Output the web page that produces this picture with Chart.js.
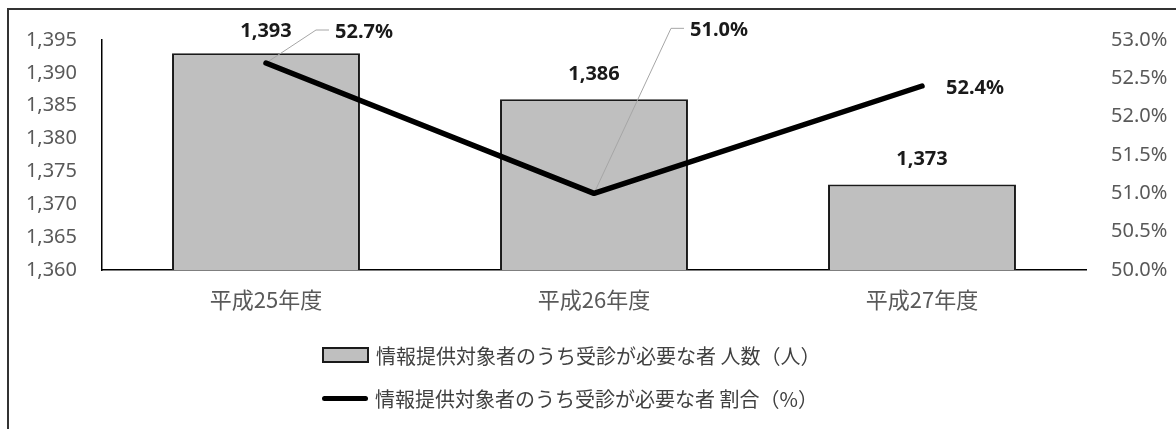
<!DOCTYPE html>
<html lang="ja">
<head>
<meta charset="utf-8">
<title>情報提供対象者のうち受診が必要な者</title>
<script src="https://cdn.jsdelivr.net/npm/chart.js@4/dist/chart.umd.min.js"></script>
<style>
  html, body { margin: 0; padding: 0; background: #fff; overflow: hidden; }
  #wrap { position: relative; width: 1176px; height: 429px; }
  #frame {
    position: absolute; left: 7px; top: 8px; width: 1200px; height: 460px;
    border: 2px solid #333; box-sizing: border-box;
  }
  #chart { position: absolute; left: 0; top: 0; }
  #legend {
    position: absolute; left: 322px; top: 340px;
    font-family: "Noto Sans CJK JP", sans-serif; font-size: 20px; color: #404040;
  }
  .item { display: flex; align-items: center; height: 30px; margin-bottom: 13px; }
  .box { width: 43px; height: 12px; background: #bfbfbf; border: 2px solid #1a1a1a; margin-right: 7px; }
  .line { width: 46px; height: 5px; background: #000; border-radius: 3px; margin-right: 7px; }
</style>
</head>
<body>
<div id="wrap">
  <div id="frame"></div>
  <canvas id="chart" width="1176" height="429"></canvas>
  <div id="legend"></div>
</div>
<script>
// 年度ごとの値
const categories = ['平成25年度', '平成26年度', '平成27年度'];
const counts = [1393, 1386, 1373];      // 人数（人）
const rates = [52.7, 51.0, 52.4];       // 割合（%）

// 軸の目盛
const countTicks = [1360, 1365, 1370, 1375, 1380, 1385, 1390, 1395];
const rateTicks = [50.0, 50.5, 51.0, 51.5, 52.0, 52.5, 53.0];

const seriesNames = ['情報提供対象者のうち受診が必要な者 人数（人）', '情報提供対象者のうち受診が必要な者 割合（%）'];

// 割合ラベルの位置（点からのずれ）と引き出し線の有無
const rateLabelOffset = [[98, -31], [125, -163], [53, 2]];
const rateLeader = [true, true, false];

const labelFont = 'bold 20px "Noto Sans", sans-serif';

function fmtCount(v) { return v.toLocaleString('en-US'); }
function fmtRate(v) { return v.toFixed(1) + '%'; }

function rateLabelBox(ctx, pt, i) {
  const text = fmtRate(rates[i]);
  const cx = pt.x + rateLabelOffset[i][0];
  const cy = pt.y + rateLabelOffset[i][1];
  const w = ctx.measureText(text).width;
  return { text, cx, cy, left: cx - w / 2 };
}

const valueLabels = {
  id: 'valueLabels',
  // 引き出し線は棒の上、折れ線の下に描く
  afterDatasetDraw(chart, args) {
    if (args.index !== 0) return;
    const ctx = chart.ctx;
    const pts = chart.getDatasetMeta(1).data;
    ctx.save();
    ctx.font = labelFont;
    ctx.strokeStyle = '#a6a6a6';
    ctx.lineWidth = 1;
    pts.forEach((pt, i) => {
      if (!rateLeader[i]) return;
      const b = rateLabelBox(ctx, pt, i);
      ctx.beginPath();
      ctx.moveTo(pt.x, pt.y);
      ctx.lineTo(b.left - 19, b.cy - 2);
      ctx.lineTo(b.left - 6, b.cy - 2);
      ctx.stroke();
    });
    ctx.restore();
  },
  afterDatasetsDraw(chart) {
    const ctx = chart.ctx;
    ctx.save();
    ctx.font = labelFont;
    ctx.fillStyle = '#1a1a1a';
    ctx.textAlign = 'center';
    ctx.textBaseline = 'middle';
    chart.getDatasetMeta(0).data.forEach((bar, i) => {
      ctx.fillText(fmtCount(counts[i]), bar.x, Math.max(31, bar.y - 25));
    });
    chart.getDatasetMeta(1).data.forEach((pt, i) => {
      const b = rateLabelBox(ctx, pt, i);
      ctx.fillText(b.text, b.cx, b.cy);
    });
    ctx.restore();
  }
};

const tickFont = { family: '"Noto Sans", sans-serif', size: 20 };

new Chart(document.getElementById('chart'), {
  data: {
    labels: categories,
    datasets: [
      {
        type: 'bar',
        label: seriesNames[0],
        data: counts,
        yAxisID: 'y',
        backgroundColor: '#bfbfbf',
        borderColor: '#1a1a1a',
        borderWidth: 2,
        barPercentage: 0.573,
        categoryPercentage: 1,
        order: 1
      },
      {
        type: 'line',
        label: seriesNames[1],
        data: rates,
        yAxisID: 'y1',
        borderColor: '#000',
        borderWidth: 5.5,
        borderCapStyle: 'round',
        borderJoinStyle: 'round',
        pointRadius: 0,
        tension: 0,
        order: 0
      }
    ]
  },
  options: {
    responsive: false,
    animation: false,
    layout: { padding: { top: 40, bottom: 99, left: 0, right: 0 } },
    plugins: {
      legend: { display: false },
      tooltip: { enabled: false }
    },
    scales: {
      x: {
        grid: { display: false, drawTicks: false },
        border: { color: '#000', width: 1.5 },
        ticks: { color: '#595959', padding: 16, font: { family: '"Noto Sans CJK JP", sans-serif', size: 22 } },
        afterFit(s) { s.height = 60; }
      },
      y: {
        position: 'left',
        min: countTicks[0],
        max: countTicks[countTicks.length - 1],
        grid: { display: false, drawTicks: false },
        border: { color: '#000', width: 1.5 },
        afterBuildTicks(s) { s.ticks = countTicks.map(v => ({ value: v })); },
        ticks: { color: '#595959', padding: 25, font: tickFont, callback: v => fmtCount(v) },
        afterFit(s) { s.width = 102; }
      },
      y1: {
        position: 'right',
        min: rateTicks[0],
        max: rateTicks[rateTicks.length - 1],
        grid: { display: false, drawTicks: false },
        border: { display: false },
        afterBuildTicks(s) { s.ticks = rateTicks.map(v => ({ value: v })); },
        ticks: { color: '#595959', padding: 25, font: tickFont, callback: v => fmtRate(v) },
        afterFit(s) { s.width = 90; }
      }
    }
  },
  plugins: [valueLabels]
});

// 凡例
const legend = document.getElementById('legend');
seriesNames.forEach((name, i) => {
  const item = document.createElement('div');
  item.className = 'item';
  const key = document.createElement('span');
  key.className = i === 0 ? 'box' : 'line';
  const text = document.createElement('span');
  text.textContent = name;
  item.appendChild(key);
  item.appendChild(text);
  legend.appendChild(item);
});
</script>
</body>
</html>
